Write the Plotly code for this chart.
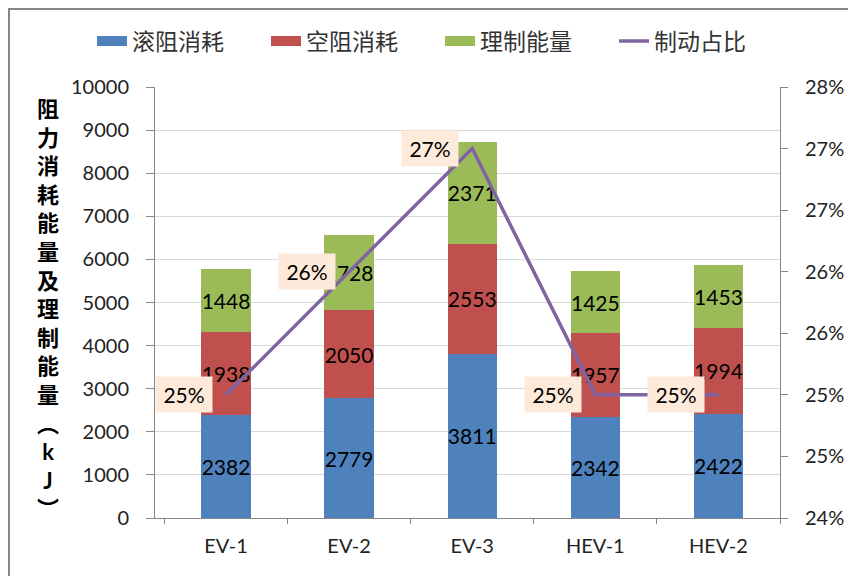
import plotly.graph_objects as go

categories = ["EV-1", "EV-2", "EV-3", "HEV-1", "HEV-2"]
rolling = [2382, 2779, 3811, 2342, 2422]      # 滚阻消耗
aero = [1938, 2050, 2553, 1957, 1994]         # 空阻消耗
braking = [1448, 1728, 2371, 1425, 1453]      # 理制能量
ratio = [0.25, 0.26, 0.27, 0.25, 0.25]        # 制动占比
ratio_labels = ["25%", "26%", "27%", "25%", "25%"]

y2_ticks = [0.24, 0.245, 0.25, 0.255, 0.26, 0.265, 0.27, 0.275]
y2_text = ["24%", "25%", "25%", "26%", "26%", "27%", "27%", "28%"]

FONT = "Lato, Noto Sans CJK SC, sans-serif"
# page body adds an 8px offset, so everything is laid out 8px up/left
L, R, T, B = 147, 84, 79, 66
W, H = 856, 576
pw, ph = W - L - R, H - T - B

fig = go.Figure()
for name, vals, col in [("滚阻消耗", rolling, "#4F81BD"),
                        ("空阻消耗", aero, "#C0504D"),
                        ("理制能量", braking, "#9BBB59")]:
    fig.add_trace(go.Bar(x=categories, y=vals, name=name, marker_color=col,
                         marker_line_width=0, showlegend=False, legendgroup=name,
                         text=[str(v) for v in vals], textposition="inside",
                         insidetextanchor="middle", constraintext="none",
                         textangle=0,
                         textfont=dict(size=21, color="black", family=FONT)))
    # wide legend swatch, like the original
    fig.add_trace(go.Scatter(x=[None], y=[None], name=name, legendgroup=name,
                             mode="lines", line=dict(color=col, width=13)))

fig.add_trace(go.Scatter(x=categories, y=ratio, name="制动占比", yaxis="y2",
                         mode="lines", line=dict(color="#8064A2", width=3.5)))

for c, v, t in zip(categories, ratio, ratio_labels):
    fig.add_annotation(x=c, y=v, xref="x", yref="y2", text=t, showarrow=False,
                       xanchor="right", yanchor="middle", xshift=-13,
                       bgcolor="#FDEADA", width=42, height=21, borderpad=7,
                       font=dict(size=21, color="black", family=FONT))

title_chars = ["阻", "力", "消", "耗", "能", "量", "及", "理", "制", "能", "量",
               "︵", "k", "J", "︶"]
fig.add_annotation(x=(40 - L) / pw, y=(510 - 300) / ph, xref="paper", yref="paper",
                   text="<b>" + "<br>".join(title_chars) + "</b>", showarrow=False,
                   xanchor="center", yanchor="middle", align="center",
                   font=dict(size=22, color="black", family=FONT))

# outer chart border
fig.add_shape(type="rect", xref="paper", yref="paper",
              x0=(1 - L) / pw, x1=(870 - L) / pw,
              y0=(510 - 590) / ph, y1=(510 - 1) / ph,
              line=dict(color="#878787", width=2))

fig.update_layout(
    width=W, height=H, barmode="stack", bargap=0.6,
    margin=dict(l=L, r=R, t=T, b=B, autoexpand=False),
    plot_bgcolor="white", paper_bgcolor="white",
    font=dict(family=FONT, color="#333333"),
    legend=dict(orientation="h", x=(84 - L) / pw, xanchor="left",
                y=(510 - 33) / ph, yanchor="middle", bgcolor="rgba(0,0,0,0)",
                font=dict(size=23, color="#333333"),
                traceorder="normal", itemwidth=30,
                entrywidth=129, entrywidthmode="pixels"),
    xaxis=dict(showline=True, linecolor="#868686", linewidth=1,
               ticks="outside", tickson="boundaries", ticklen=5,
               tickcolor="#868686", ticklabelstandoff=10,
               tickfont=dict(size=20, color="#222222")),
    yaxis=dict(range=[0, 10000], dtick=1000, tickformat="d", showgrid=True,
               gridcolor="#D9D9D9", showline=True, linecolor="#868686",
               ticks="outside", ticklen=8, tickcolor="#868686", zeroline=False,
               ticklabelstandoff=13,
               tickfont=dict(size=20, color="#222222")),
    yaxis2=dict(overlaying="y", side="right", range=[0.24, 0.275],
                tickvals=y2_ticks, ticktext=y2_text, showgrid=False,
                showline=True, linecolor="#868686", ticks="outside", ticklen=7,
                tickcolor="#868686", zeroline=False, ticklabelstandoff=13,
                tickfont=dict(size=20, color="#222222")),
)

fig.write_html("out.html")
